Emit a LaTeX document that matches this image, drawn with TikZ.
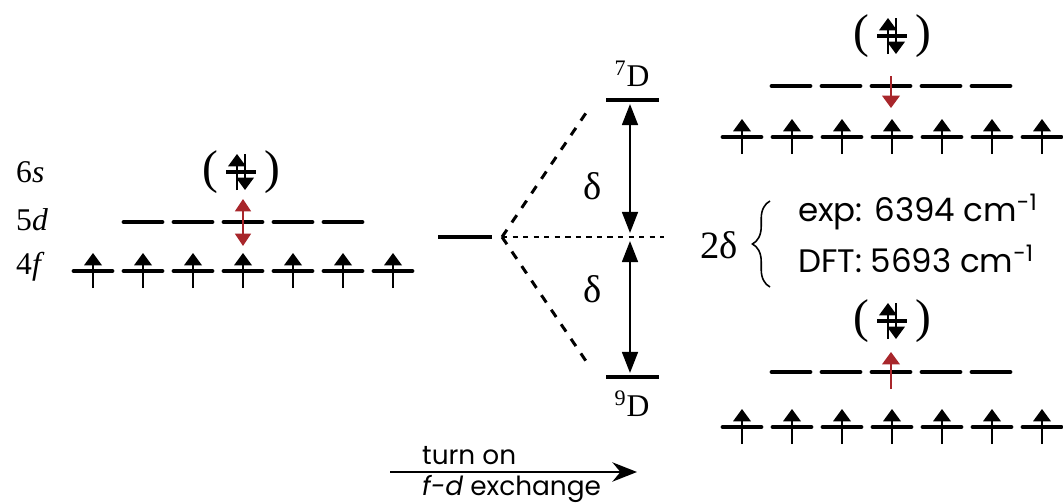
\documentclass[tikz,border=0pt]{standalone}
\usepackage{fontspec}
\setmainfont{Liberation Serif}
\newfontfamily\labelfont{Poppins}
\usetikzlibrary{arrows.meta, positioning, decorations.pathreplacing}
\definecolor{SpinRed}{HTML}{A8262B}

\tikzset{
  level/.style={line width=2.8pt, line cap=round},
  spin/.style={line width=1pt, -{Triangle[width=10pt, length=7pt]}},
  gap/.style={line width=1.3pt, {Triangle[width=9pt, length=12pt]}-{Triangle[width=9pt, length=12pt]}},
  split/.style={line width=1.7pt, dash pattern=on 5pt off 5pt},
  serlbl/.style={font=\fontsize{18}{20}\selectfont},
  sanslbl/.style={font=\labelfont\fontsize{15}{17}\selectfont, anchor=west},
  paren/.style={font=\fontsize{27}{29}\selectfont},
}
% one orbital, empty or with a spin-up electron
\newcommand{\orb}[2]{\draw[level] (#1-19,#2) -- (#1+19,#2);}
\newcommand{\orbup}[2]{\orb{#1}{#2}\draw[spin] (#1,#2+17) -- (#1,#2-18);}
% doubly occupied 6s in brackets
\newcommand{\pairorb}[3]{%
  \draw[line width=2pt] (#1-15,#2) -- (#1+15,#2);
  \draw[spin] (#1-4,#2+18) -- (#1-4,#2-18);
  \draw[spin] (#1+4,#2-18) -- (#1+4,#2+18);
  \node[paren] (#3l) at (#1-31,#2) {(};
  \node[paren] (#3r) at (#1+31,#2) {)};}

\begin{document}
\begin{tikzpicture}[x=0.02cm, y=-0.02cm, >=Stealth]
  \useasboundingbox (0,0) rectangle (1063,504);

  % free ion configuration
  \node[serlbl, anchor=west] (s6) at (10,172) {6\textit{s}};
  \node[serlbl, anchor=west] (d5) at (10,220) {5\textit{d}};
  \node[serlbl, anchor=west] (f4) at (10,267) {4\textit{f}};
  \foreach \x in {93,143,...,393} {\orbup{\x}{271}}
  \foreach \x in {143,193,...,343} {\orb{\x}{222}}
  \pairorb{241}{172}{sl}
  \coordinate (exA) at (243,199);
  \coordinate (exB) at (243,246);
  \draw[SpinRed, line width=1pt, {Triangle[width=9pt, length=7pt]}-{Triangle[width=9pt, length=7pt]}] (exA) -- (exB);

  % splitting
  \coordinate (midL) at (438,237);
  \coordinate (midR) at (492,237);
  \coordinate (fork) at (502,237);
  \coordinate (hiL) at (606,100);
  \coordinate (hiR) at (659,100);
  \coordinate (loL) at (606,377);
  \coordinate (loR) at (659,377);
  \coordinate (hiA) at (630,104);
  \coordinate (loA) at (630,373);
  \coordinate (cenA) at (630,233);
  \coordinate (cenB) at (630,241);
  \coordinate (cenR) at (664,237);
  \draw[level, line cap=butt] (midL) -- (midR);
  \draw[level, line cap=butt] (hiL) -- (hiR);
  \draw[level, line cap=butt] (loL) -- (loR);
  \draw[split] (fork) -- (588,110);
  \draw[split] (fork) -- (588,364);
  \draw[line width=0.8pt, dash pattern=on 3pt off 3pt] (fork) -- (cenR);
  \draw[gap] (hiA) -- (cenA);
  \draw[gap] (cenB) -- (loA);
  \node[serlbl] (d7) at (632,74) {\textsuperscript{7}D};
  \node[serlbl] (d9) at (632,404) {\textsuperscript{9}D};
  \node[serlbl, font=\fontsize{22}{24}\selectfont] (dhi) at (593,186) {δ};
  \node[serlbl, font=\fontsize{22}{24}\selectfont] (dlo) at (593,289) {δ};

  % septet configuration
  \foreach \x in {742,792,...,1042} {\orbup{\x}{137}}
  \foreach \x in {791,841,...,991} {\orb{\x}{86}}
  \pairorb{892}{36}{st}
  \coordinate (upA) at (891,76);
  \coordinate (upB) at (891,108);
  \draw[SpinRed, spin] (upA) -- (upB);

  % nonet configuration
  \foreach \x in {742,792,...,1042} {\orbup{\x}{427}}
  \foreach \x in {791,841,...,991} {\orb{\x}{372}}
  \pairorb{892}{321}{nt}
  \coordinate (dnA) at (891,389);
  \coordinate (dnB) at (891,352);
  \draw[SpinRed, spin] (dnA) -- (dnB);

  % exchange gap values
  \node[serlbl, font=\fontsize{22}{24}\selectfont] (twod) at (719,245) {2δ};
  \coordinate (brB) at (770,287);
  \coordinate (brT) at (770,201);
  \draw[line width=0.9pt, decorate, decoration={brace, amplitude=10pt}] (brB) -- (brT);
  \node[sanslbl, font=\labelfont\fontsize{18.5}{20}\selectfont] (expv) at (792,212) {exp: 6394 cm\textsuperscript{-1}};
  \node[sanslbl, font=\labelfont\fontsize{18.5}{20}\selectfont] (dftv) at (792,259) {DFT: 5693 cm\textsuperscript{-1}};

  % turning on exchange
  \coordinate (onA) at (390,472);
  \coordinate (onB) at (637,472);
  \draw[line width=1.3pt, -{Stealth[length=14pt, width=11pt]}] (onA) -- (onB);
  \node[sanslbl] (turn) at (416,456) {turn on};
  \node[sanslbl] (fdex) at (416,489) {\textit{f-d} exchange};
\end{tikzpicture}
\end{document}
